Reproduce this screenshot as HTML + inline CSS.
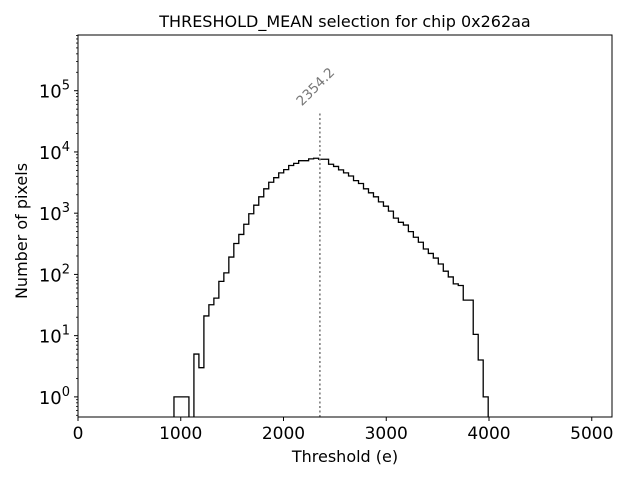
<!DOCTYPE html>
<html><head><meta charset="utf-8"><style>
body{margin:0;background:#fff;}
svg text{font-family:"DejaVu Sans","Liberation Sans",sans-serif;}
</style></head><body>
<svg id="chart" width="640" height="480" xmlns="http://www.w3.org/2000/svg">
<defs><clipPath id="plotclip"><rect x="78" y="35" width="534" height="382"/></clipPath></defs>
<rect width="640" height="480" fill="#fff"/>
<text x="345" y="27" font-size="16" text-anchor="middle">THRESHOLD_MEAN selection for chip 0x262aa</text>
<g id="plot"></g>
<text x="345" y="462" font-size="16" text-anchor="middle">Threshold (e)</text>
<text transform="translate(27,231) rotate(-90)" font-size="16" text-anchor="middle">Number of pixels</text>
</svg>
<script>
const binStart = 934;
const binWidth = 48.54;
const counts = [1,1,1,0,5,3,21,32,41,77,106,192,320,450,660,980,1350,1850,2500,3200,3800,4550,5150,6000,6500,7200,7200,7700,7900,7600,7600,6300,5800,5100,4550,4050,3400,3050,2500,2150,1850,1530,1300,1080,830,710,640,500,405,335,260,220,185,148,113,91,70,66,38,38,10.5,4,1];
const xTicks = [0,1000,2000,3000,4000,5000];
const yTickExps = [0,1,2,3,4,5];
const meanValue = 2354.2;
const meanLineTop = 44000;

const L=78,R=612,T=35,B=417;
const xMin=0,xMax=5197;
const yLogMin=-0.3285,yLogMax=5.9098;
const sx=v=>L+(v-xMin)/(xMax-xMin)*(R-L);
const sy=v=>v<=0?B+50:B-(Math.log10(v)-yLogMin)/(yLogMax-yLogMin)*(B-T);
const NS="http://www.w3.org/2000/svg";
const plot=document.getElementById('plot');
function mk(tag,attrs,parent){const e=document.createElementNS(NS,tag);for(const k in attrs)e.setAttribute(k,attrs[k]);(parent||plot).appendChild(e);return e;}

let d=`M${sx(binStart)},${B+50}`;
counts.forEach((c,i)=>{const x0=sx(binStart+i*binWidth),x1=sx(binStart+(i+1)*binWidth);d+=` L${x0},${sy(c)} L${x1},${sy(c)}`;});
d+=` L${sx(binStart+counts.length*binWidth)},${B+50}`;
const hist=mk('path',{d:d,fill:'none',stroke:'#000','stroke-width':1.3,'clip-path':'url(#plotclip)'});



const ml=mk('line',{x1:sx(meanValue),x2:sx(meanValue),y1:B,y2:sy(meanLineTop),stroke:'#777','stroke-width':1.5,'stroke-dasharray':'2,2.5'});


const mt=mk('text',{x:sx(meanValue)-18,y:sy(meanLineTop)-6,'font-size':13.5,fill:'#777',transform:`rotate(-45 ${sx(meanValue)-18} ${sy(meanLineTop)-6})`});
mt.textContent=meanValue.toFixed(1);



const fr=mk('rect',{x:L,y:T,width:R-L,height:B-T,fill:'none',stroke:'#000','stroke-width':1});



xTicks.forEach(t=>{const x=sx(t);
 const tl=mk('line',{x1:x,x2:x,y1:B,y2:B+4,stroke:'#000'});
 
 
 const tx=mk('text',{x:x,y:B+22,'font-size':17,'text-anchor':'middle'});tx.textContent=t;
 
 
});
yTickExps.forEach(e=>{const y=sy(Math.pow(10,e));
 const tl=mk('line',{x1:L-4,x2:L,y1:y,y2:y,stroke:'#000'});
 
 
 const tx=mk('text',{x:L-8,y:y+7,'font-size':18,'text-anchor':'end'});
 const a=document.createElementNS(NS,'tspan');a.textContent='10';tx.appendChild(a);
 const b=document.createElementNS(NS,'tspan');b.setAttribute('dy','-8');b.setAttribute('font-size','13');b.textContent=e;tx.appendChild(b);
 
 
});
for(let e=-1;e<=5;e++){for(let m=2;m<=9;m++){const v=m*Math.pow(10,e);const y=sy(v);if(y<T||y>B)continue;
 const tl=mk('line',{x1:L-2,x2:L,y1:y,y2:y,stroke:'#000','stroke-width':0.8});
 
 
}}
</script>
</body></html>
